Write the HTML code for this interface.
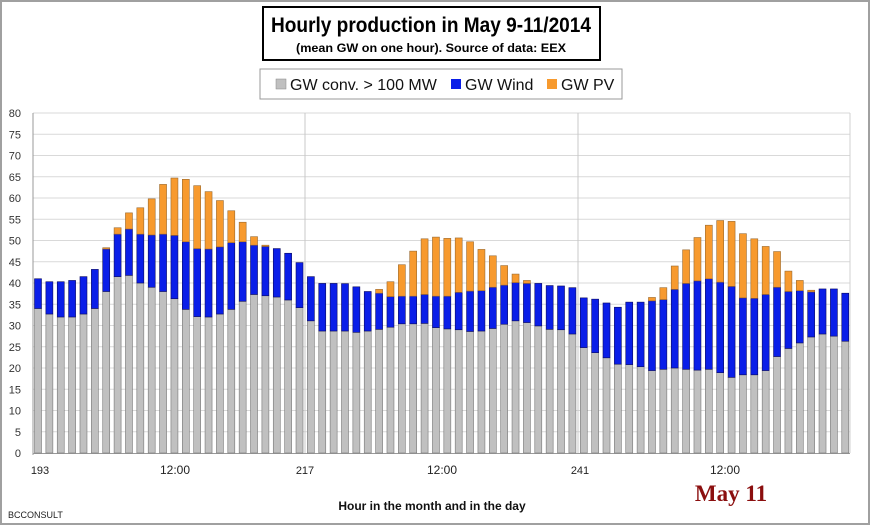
<!DOCTYPE html>
<html><head><meta charset="utf-8"><style>
html,body{margin:0;padding:0;background:#fff}
svg{display:block}
text{font-family:"Liberation Sans",sans-serif}
</style></head><body>
<svg id="s" width="870" height="525" xmlns="http://www.w3.org/2000/svg">
<rect x="1" y="1" width="868" height="523" fill="#fff" stroke="#a0a0a0" stroke-width="2"/>
<rect x="263" y="7" width="337" height="53" fill="#fff" stroke="#000" stroke-width="2"/>
<text x="431" y="32" text-anchor="middle" font-size="21" font-weight="bold" textLength="320" lengthAdjust="spacingAndGlyphs">Hourly production in May 9-11/2014</text>
<text x="431" y="52" text-anchor="middle" font-size="12" font-weight="bold" textLength="270" lengthAdjust="spacingAndGlyphs">(mean GW on one hour). Source of data: EEX</text>
<rect x="260" y="69" width="362" height="30" fill="#fff" stroke="#999" stroke-width="1"/>
<rect x="276" y="79" width="10" height="10" fill="#c0c0c0" stroke="#888" stroke-width="0.5"/>
<text x="290" y="90" font-size="16" fill="#111">GW conv. &gt; 100 MW</text>
<rect x="451" y="79" width="10" height="10" fill="#0a1ee8"/>
<text x="465" y="90" font-size="16" fill="#111">GW Wind</text>
<rect x="547" y="79" width="10" height="10" fill="#f79a2e"/>
<text x="561" y="90" font-size="16" fill="#111">GW PV</text>
<g id="grid"></g>
<g id="bars"></g>
<g font-size="11" fill="#222" text-anchor="middle">
<text x="40" y="474">193</text>
<text x="175" y="474" font-size="12">12:00</text>
<text x="305" y="474">217</text>
<text x="442" y="474" font-size="12">12:00</text>
<text x="580" y="474">241</text>
<text x="725" y="474" font-size="12">12:00</text>
</g>
<text x="432" y="510" text-anchor="middle" font-size="12" font-weight="bold" fill="#111">Hour in the month and in the day</text>
<text x="731" y="501" text-anchor="middle" font-size="23" font-weight="bold" fill="#8b0f0f" style="font-family:'Liberation Serif',serif">May 11</text>
<text x="8" y="518" font-size="9" fill="#222">BCCONSULT</text>
</svg>
<script>
var c=[34,32.7,32,32,32.7,34,38,41.5,41.8,40,39,38,36.3,33.8,32.1,32,32.7,33.8,35.7,37.3,37,36.7,36,34.2,
31.1,28.7,28.7,28.7,28.4,28.7,29.1,29.6,30.4,30.4,30.5,29.5,29.2,29,28.6,28.7,29.3,30.3,31.1,30.7,29.9,29.1,29,28,
24.8,23.6,22.4,20.9,20.8,20.3,19.4,19.7,20,19.7,19.5,19.7,18.9,17.8,18.4,18.4,19.4,22.7,24.6,25.9,27.3,28,27.5,26.3];
var w=[41,40.3,40.3,40.6,41.5,43.2,48,51.5,52.7,51.5,51.3,51.5,51.2,49.7,48.1,48,48.5,49.5,49.7,48.9,48.6,48.1,47,44.8,
41.5,39.9,39.9,39.85,39.1,38,37.6,36.8,36.9,36.9,37.3,36.9,36.9,37.8,38.1,38.2,39,39.5,40.1,39.9,39.9,39.4,39.3,38.9,
36.5,36.2,35.3,34.3,35.5,35.5,35.8,36.1,38.5,39.9,40.5,41,40.2,39.2,36.5,36.4,37.3,39,38,38.2,37.9,38.6,38.6,37.6];
var p=[0,0,0,0,0,0,48.3,53,56.5,57.7,59.8,63.2,64.7,64.4,62.9,61.5,59.4,57,54.3,50.9,48.9,0,0,0,
0,0,0,0,0,0,38.5,40.3,44.3,47.5,50.4,50.8,50.5,50.6,49.7,47.9,46.4,44.1,42.1,40.6,0,0,0,0,
0,0,0,0,0,0,36.6,38.9,44,47.8,50.7,53.6,54.7,54.5,51.6,50.4,48.6,47.4,42.8,40.6,38.3,0,0,0];
var NS="http://www.w3.org/2000/svg";
function el(g,t,a){var e=document.createElementNS(NS,t);for(var k in a)e.setAttribute(k,a[k]);g.appendChild(e);return e;}
var Y=function(v){return 453-v*4.25};
var g=document.getElementById('grid');
for(var i=0;i<=16;i++){var y=Y(i*5);
 if(i>0)el(g,'line',{x1:33,x2:850,y1:y,y2:y,stroke:'#d9d9d9','stroke-width':1});
 var t=el(g,'text',{x:21,y:y+4,'text-anchor':'end','font-size':11,fill:'#333'});t.textContent=i*5;}
el(g,'line',{x1:305,x2:305,y1:113,y2:453,stroke:'#c8c8c8'});
el(g,'line',{x1:578,x2:578,y1:113,y2:453,stroke:'#c8c8c8'});
el(g,'line',{x1:850,x2:850,y1:113,y2:453,stroke:'#d0d0d0'});
el(g,'line',{x1:33,x2:33,y1:113,y2:455,stroke:'#999'});
el(g,'line',{x1:33,x2:850,y1:453.5,y2:453.5,stroke:'#999'});
var b=document.getElementById('bars');
for(var i=0;i<72;i++){var x=38+i*11.37-3.5;
 el(b,'rect',{x:x,y:Y(c[i]),width:7,height:c[i]*4.25,fill:'#c0c0c0',stroke:'#777','stroke-width':0.6});
 el(b,'rect',{x:x,y:Y(w[i]),width:7,height:(w[i]-c[i])*4.25,fill:'#0a1ee8',stroke:'#0a0a60','stroke-width':0.6});
 if(p[i]>w[i])el(b,'rect',{x:x,y:Y(p[i]),width:7,height:(p[i]-w[i])*4.25,fill:'#f79a2e',stroke:'#9a6a30','stroke-width':0.6});
}
</script>
</body></html>
